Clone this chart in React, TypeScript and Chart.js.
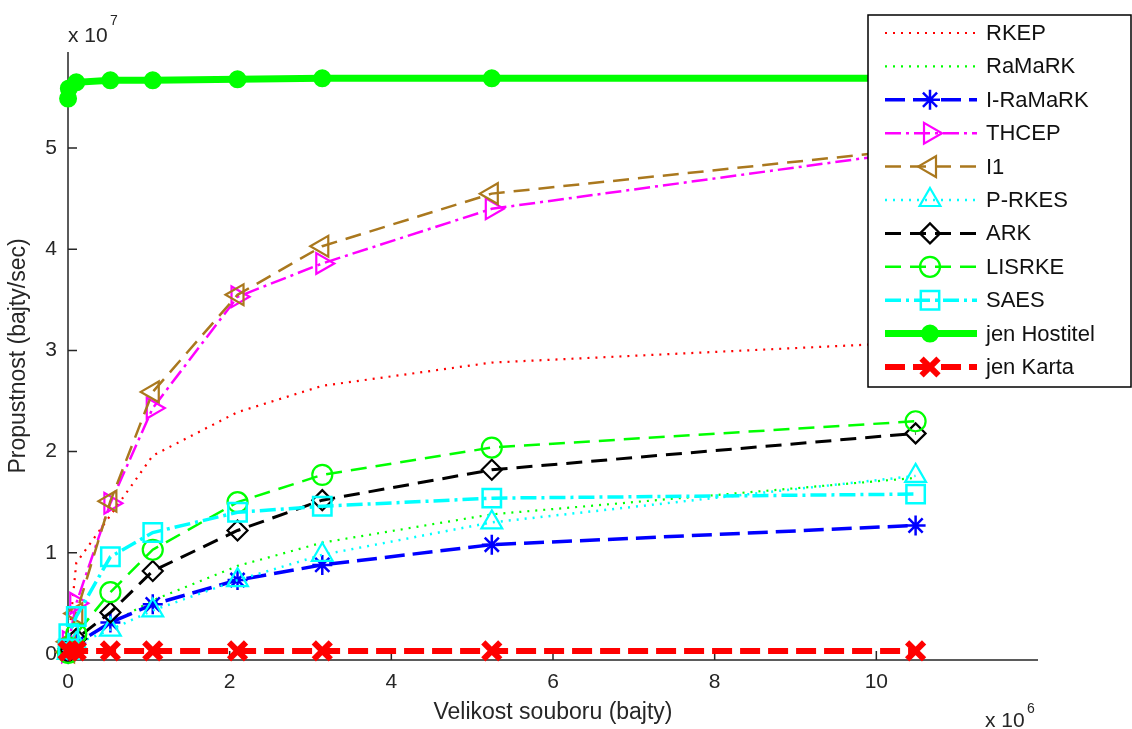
import React, { useEffect, useRef } from 'react';
import { Chart, registerables } from 'chart.js';
import { drawPoint } from 'chart.js/helpers';

Chart.register(...registerables);

// File sizes in bytes
const fileSizes = [1024, 10240, 102400, 524288, 1048576, 2097152, 3145728, 5242880, 10485760];

// Throughput in units of 10^7 bytes/sec
const rkep = [0.02, 0.15, 0.9, 1.37, 1.96, 2.39, 2.65, 2.88, 3.08];
const ramark = [0.01, 0.04, 0.12, 0.3, 0.53, 0.87, 1.1, 1.38, 1.74];
const iRamark = [0.01, 0.03, 0.1, 0.31, 0.49, 0.73, 0.88, 1.08, 1.27];
const thcep = [0.02, 0.12, 0.5, 1.49, 2.43, 3.53, 3.86, 4.4, 4.97];
const i1 = [0.02, 0.12, 0.4, 1.51, 2.59, 3.55, 4.03, 4.55, 4.99];
const pRkes = [0.01, 0.03, 0.1, 0.24, 0.43, 0.73, 0.98, 1.3, 1.76];
const ark = [0.01, 0.05, 0.15, 0.41, 0.82, 1.22, 1.52, 1.82, 2.18];
const lisrke = [0.01, 0.06, 0.2, 0.61, 1.03, 1.5, 1.77, 2.04, 2.3];
const saes = [0.05, 0.2, 0.37, 0.96, 1.2, 1.4, 1.46, 1.54, 1.58];
const jenHostitel = [5.49, 5.59, 5.65, 5.67, 5.67, 5.68, 5.69, 5.69, 5.69];
const jenKarta = [0.03, 0.03, 0.03, 0.03, 0.03, 0.03, 0.03, 0.03, 0.03];

const xTickValues = [0, 2, 4, 6, 8, 10];
const yTickValues = [0, 1, 2, 3, 4, 5];

const xScaleFactor = 1e6;
const xTitle = 'Velikost souboru (bajty)';
const yTitle = 'Propustnost (bajty/sec)';

const FONT = '"Liberation Sans", Arial, sans-serif';
const TEXT = '#262626';

const DOT = [2, 6];
const DASH = [16, 9];
const DASH_THICK = [20, 8];
const DASHDOT = [16, 5, 3, 5];

type Style = {
  label: string;
  values: number[];
  color: string;
  dash: number[];
  width: number;
  pointStyle: any;
  radius: number;
  rotation?: number;
  pointWidth?: number;
  fill?: boolean;
};

const series: Style[] = [
  { label: 'RKEP', values: rkep, color: '#ff0000', dash: DOT, width: 2.2, pointStyle: false, radius: 0 },
  { label: 'RaMaRK', values: ramark, color: '#00ff00', dash: DOT, width: 2.2, pointStyle: false, radius: 0 },
  { label: 'I-RaMaRK', values: iRamark, color: '#0000ff', dash: DASH_THICK, width: 3.5, pointStyle: 'star', radius: 10, pointWidth: 2.5 },
  { label: 'THCEP', values: thcep, color: '#ff00ff', dash: DASHDOT, width: 2.5, pointStyle: 'triangle', radius: 12, rotation: 90, pointWidth: 2.2 },
  { label: 'I1', values: i1, color: '#aa781e', dash: DASH, width: 2.5, pointStyle: 'triangle', radius: 12, rotation: -90, pointWidth: 2.2 },
  { label: 'P-RKES', values: pRkes, color: '#00ffff', dash: DOT, width: 2.5, pointStyle: 'triangle', radius: 12, pointWidth: 2.2 },
  { label: 'ARK', values: ark, color: '#000000', dash: DASH, width: 3, pointStyle: 'rectRot', radius: 10, pointWidth: 2.2 },
  { label: 'LISRKE', values: lisrke, color: '#00ff00', dash: DASH, width: 2.5, pointStyle: 'circle', radius: 10, pointWidth: 2.2 },
  { label: 'SAES', values: saes, color: '#00ffff', dash: DASHDOT, width: 3.5, pointStyle: 'rect', radius: 13, pointWidth: 2.5 },
  { label: 'jen Hostitel', values: jenHostitel, color: '#00ff00', dash: [], width: 7, pointStyle: 'circle', radius: 8, pointWidth: 2, fill: true },
  { label: 'jen Karta', values: jenKarta, color: '#ff0000', dash: DASH_THICK, width: 6, pointStyle: 'crossRot', radius: 12, pointWidth: 6 },
];

const axesPlugin = {
  id: 'matlabAxes',
  beforeDatasetsDraw(chart: any) {
    const { ctx, chartArea } = chart;
    const { left, right, top, bottom } = chartArea;
    ctx.save();
    ctx.strokeStyle = TEXT;
    ctx.lineWidth = 1.5;
    ctx.setLineDash([]);
    ctx.beginPath();
    ctx.moveTo(left, top);
    ctx.lineTo(left, bottom);
    ctx.lineTo(right, bottom);
    ctx.stroke();
    ctx.beginPath();
    xTickValues.forEach((v) => {
      const px = chart.scales.x.getPixelForValue(v);
      ctx.moveTo(px, bottom);
      ctx.lineTo(px, bottom - 9);
    });
    yTickValues.forEach((v) => {
      const py = chart.scales.y.getPixelForValue(v);
      ctx.moveTo(left, py);
      ctx.lineTo(left + 9, py);
    });
    ctx.stroke();
    ctx.restore();
  },
  afterDraw(chart: any) {
    const { ctx } = chart;
    ctx.save();
    ctx.fillStyle = TEXT;
    ctx.textAlign = 'left';
    ctx.textBaseline = 'alphabetic';
    ctx.font = `21px ${FONT}`;
    ctx.fillText('x 10', 68, 42);
    ctx.fillText('x 10', 985, 727);
    ctx.font = `14px ${FONT}`;
    ctx.fillText('7', 110, 25);
    ctx.fillText('6', 1027, 713);
    ctx.restore();
  },
};

const legendPlugin = {
  id: 'matlabLegend',
  afterDraw(chart: any) {
    const { ctx } = chart;
    const x0 = 868, y0 = 15, x1 = 1131, y1 = 387;
    ctx.save();
    ctx.fillStyle = '#ffffff';
    ctx.fillRect(x0, y0, x1 - x0, y1 - y0);
    ctx.strokeStyle = '#000000';
    ctx.lineWidth = 1.5;
    ctx.setLineDash([]);
    ctx.strokeRect(x0, y0, x1 - x0, y1 - y0);
    series.forEach((s, i) => {
      const y = 33 + i * 33.4;
      ctx.save();
      ctx.strokeStyle = s.color;
      ctx.lineWidth = s.width;
      ctx.setLineDash(s.dash);
      ctx.beginPath();
      ctx.moveTo(885, y);
      ctx.lineTo(977, y);
      ctx.stroke();
      ctx.restore();
      if (s.pointStyle) {
        ctx.save();
        ctx.setLineDash([]);
        ctx.strokeStyle = s.color;
        ctx.fillStyle = s.fill ? s.color : 'rgba(0,0,0,0)';
        ctx.lineWidth = s.pointWidth || 2;
        drawPoint(ctx, { pointStyle: s.pointStyle, rotation: s.rotation || 0, radius: s.radius, borderWidth: s.pointWidth || 2 } as any, 930, y);
        ctx.restore();
      }
      ctx.fillStyle = '#111111';
      ctx.font = `22px ${FONT}`;
      ctx.textAlign = 'left';
      ctx.textBaseline = 'middle';
      ctx.fillText(s.label, 986, y + 1);
    });
    ctx.restore();
  },
};

export default function App() {
  const canvasRef = useRef<HTMLCanvasElement | null>(null);

  useEffect(() => {
    if (!canvasRef.current) return;
    const n = series.length;
    const datasets = series.map((s, i) => ({
      label: s.label,
      data: fileSizes.map((sz, k) => ({ x: sz / xScaleFactor, y: s.values[k] })),
      borderColor: s.color,
      backgroundColor: s.color,
      borderWidth: s.width,
      borderDash: s.dash,
      pointStyle: s.pointStyle,
      pointRadius: s.radius,
      pointRotation: s.rotation || 0,
      pointBorderWidth: s.pointWidth || 2,
      pointBorderColor: s.color,
      pointBackgroundColor: s.fill ? s.color : 'rgba(0,0,0,0)',
      tension: 0,
      fill: false,
      clip: false as any,
      order: n - i,
    }));

    const chart = new Chart(canvasRef.current, {
      type: 'line',
      data: { datasets },
      options: {
        animation: false,
        responsive: false,
        maintainAspectRatio: false,
        layout: { padding: { top: 52, right: 94, left: 0, bottom: 0 } },
        plugins: { legend: { display: false }, tooltip: { enabled: false } },
        scales: {
          x: {
            type: 'linear',
            min: 0,
            max: 12,
            afterFit: (s: any) => { s.height = 69; },
            grid: { display: false, drawTicks: false, tickLength: 0 },
            border: { display: false },
            ticks: {
              stepSize: 2,
              padding: 10,
              maxRotation: 0,
              autoSkip: false,
              color: TEXT,
              font: { family: FONT, size: 21 },
              callback: (v: any) => (xTickValues.includes(Number(v)) ? String(v) : ''),
            },
            title: {
              display: true,
              text: xTitle,
              color: TEXT,
              font: { family: FONT, size: 23 },
              padding: { top: 0, bottom: 3 },
            },
          },
          y: {
            type: 'linear',
            min: -0.06,
            max: 5.95,
            afterFit: (s: any) => { s.width = 68; },
            grid: { display: false, drawTicks: false, tickLength: 0 },
            border: { display: false },
            ticks: {
              stepSize: 1,
              includeBounds: false,
              padding: 11,
              color: TEXT,
              font: { family: FONT, size: 21 },
              callback: (v: any) => (yTickValues.includes(Number(v)) ? String(v) : ''),
            },
            title: {
              display: true,
              text: yTitle,
              color: TEXT,
              font: { family: FONT, size: 23 },
              padding: { top: 5, bottom: 0 },
            },
          },
        },
      } as any,
      plugins: [axesPlugin, legendPlugin],
    });
    return () => chart.destroy();
  }, []);

  return (
    <div style={{ position: 'fixed', left: 0, top: 0, width: 1132, height: 729, background: '#ffffff' }}>
      <canvas ref={canvasRef} width={1132} height={729} style={{ width: 1132, height: 729 }} />
    </div>
  );
}
